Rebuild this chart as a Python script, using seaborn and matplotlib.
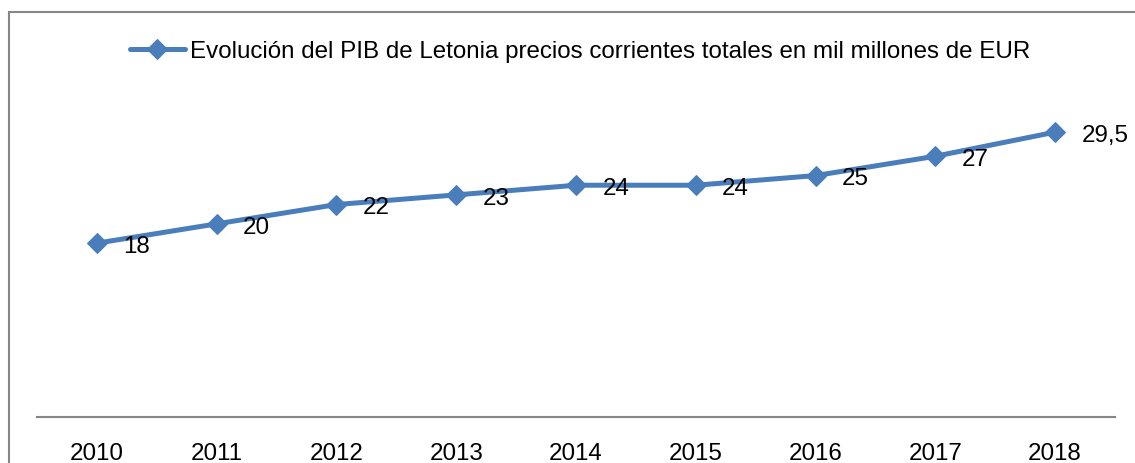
import matplotlib
matplotlib.use("Agg")
import matplotlib.pyplot as plt
import seaborn as sns
import pandas as pd
from matplotlib.patches import Rectangle

# data
years = ["2010", "2011", "2012", "2013", "2014", "2015", "2016", "2017", "2018"]
pib = [18, 20, 22, 23, 24, 24, 25, 27, 29.5]
point_labels = ["18", "20", "22", "23", "24", "24", "25", "27", "29,5"]
series_name = "Evolución del PIB de Letonia precios corrientes totales en mil millones de EUR"

BLUE = "#4A7EBB"
GRAY = "#868686"
FS = 17.4

sns.set_theme(style="white")
plt.rcParams["font.family"] = ["Liberation Sans", "DejaVu Sans"]
plt.rcParams["text.color"] = "black"

df = pd.DataFrame({"year": years, "pib": pib})
df["x"] = range(len(years))

fig = plt.figure(figsize=(11.35, 4.64), dpi=100)
ax = fig.add_axes([37 / 1135, 1 - 418 / 464, (1115 - 37) / 1135, (418 - 80) / 464])

sns.lineplot(data=df, x="x", y="pib", ax=ax, color=BLUE, linewidth=3.6,
             marker="D", markersize=10, markeredgecolor=BLUE, label=series_name)

# data labels to the right of each point
for xi, yi, lab in zip(df["x"], df["pib"], point_labels):
    ax.annotate(lab, (xi, yi), xytext=(19, -2), textcoords="offset points",
                ha="left", va="center", fontsize=FS, color="black")

ax.set_xlim(-0.5, len(years) - 0.5)
ax.set_ylim(0, 35)
ax.set_xticks(df["x"])
ax.set_xticklabels(years, fontsize=FS)
ax.set_yticks([])
ax.set_xlabel("")
ax.set_ylabel("")
ax.tick_params(axis="x", length=0, pad=18, colors="black")
for side in ["top", "left", "right"]:
    ax.spines[side].set_visible(False)
ax.spines["bottom"].set_color(GRAY)
ax.spines["bottom"].set_linewidth(1.5)

leg = ax.legend(loc="center", bbox_to_anchor=(580 / 1135, 1 - 52 / 464), bbox_transform=fig.transFigure,
                frameon=False, fontsize=FS, handlelength=2.3, handletextpad=0.2)
for t in leg.get_texts():
    t.set_color("black")

# outer chart border (only left and top visible in the crop)
fig.patches.append(Rectangle((9 / 1135, -0.2), 1.2, 1.2 - 13 / 464,
                             transform=fig.transFigure, fill=False,
                             edgecolor=GRAY, linewidth=1.5))

fig.savefig("out.png", dpi=100)
